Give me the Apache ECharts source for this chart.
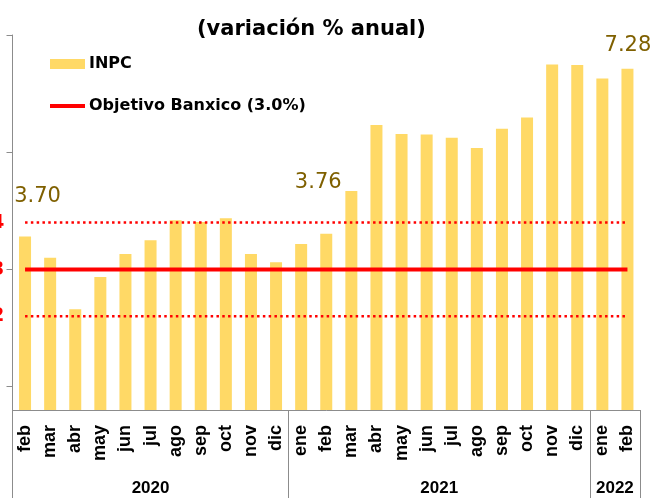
<!DOCTYPE html>
<html>
<head>
<meta charset="utf-8">
<script src="https://cdn.jsdelivr.net/npm/echarts@6/dist/echarts.min.js"></script>
<style>
html,body{margin:0;padding:0;background:#fff;}
#chart{width:655px;height:498px;}
</style>
</head>
<body>
<div id="chart"></div>
<script>
// ---- data ----
var months = ['feb','mar','abr','may','jun','jul','ago','sep','oct','nov','dic',
              'ene','feb','mar','abr','may','jun','jul','ago','sep','oct','nov','dic',
              'ene','feb'];
var inpc = [3.70, 3.25, 2.15, 2.84, 3.33, 3.62, 4.05, 4.01, 4.09, 3.33, 3.15,
            3.54, 3.76, 4.67, 6.08, 5.89, 5.88, 5.81, 5.59, 6.00, 6.24, 7.37, 7.36,
            7.07, 7.28];
var years = ['2020', '2021', '2022'];
var yearCounts = [11, 12, 2];
var target = 3.0;
var upperBand = 4.0;
var lowerBand = 2.0;
var bandLabels = [2, 3, 4];
var yTicks = [0.5, 3, 5.5, 8];
var labeledIdx = [0, 12, 24];
var title = '(variación % anual)';
var seriesNames = ['INPC', 'Objetivo Banxico (3.0%)'];

// ---- derived ----
var bounds = [0];
yearCounts.forEach(function (c, i) { bounds.push(bounds[i] + c); });
var mids = years.map(function (y, i) { return (bounds[i] + bounds[i + 1]) / 2; });
var labelOffsets = { 0: [12.5, -25], 12: [-8, -36], 24: [0.5, -8] };

var barData = inpc.map(function (v, i) {
  if (labeledIdx.indexOf(i) >= 0) {
    return { value: v, label: { show: true, position: 'top', offset: labelOffsets[i],
      formatter: function (p) { return p.value.toFixed(2); } } };
  }
  return v;
});
function constant(v) { return months.map(function () { return v; }); }

var chart = echarts.init(document.getElementById('chart'), null, { renderer: 'canvas' });
chart.setOption({
  animation: false,
  backgroundColor: '#ffffff',
  title: {
    text: title,
    left: 192, top: 14,
    textStyle: { fontFamily: 'DejaVu Sans', fontWeight: 'bold', fontSize: 21, color: '#000' }
  },
  legend: {
    orient: 'vertical',
    left: 43, top: 49,
    itemWidth: 35, itemHeight: 10, itemGap: 22,
    data: [
      { name: seriesNames[0], icon: 'rect' },
      { name: seriesNames[1], itemStyle: { opacity: 0 }, lineStyle: { width: 4, color: '#ff0000' } }
    ],
    textStyle: { fontFamily: 'DejaVu Sans', fontWeight: 'bold', fontSize: 16, color: '#000', lineHeight: 20, padding: [0, 0, 0, -1] }
  },
  grid: { left: 12.5, right: 15, top: 35, bottom: 88, containLabel: false, outerBoundsMode: 'none' },
  xAxis: [
    {
      type: 'category',
      data: months,
      position: 'bottom',
      axisLine: { show: true, lineStyle: { color: '#8c8c8c', width: 1 } },
      axisTick: { show: false },
      axisLabel: { interval: 0, rotate: 90, margin: 15, fontFamily: 'Liberation Sans', fontWeight: 'bold', fontSize: 18, color: '#000' }
    },
    {
      type: 'value',
      min: 0, max: bounds[bounds.length - 1],
      position: 'bottom',
      axisLine: { show: false },
      splitLine: { show: false },
      axisTick: { show: true, customValues: bounds, length: 90, lineStyle: { color: '#8c8c8c', width: 1 } },
      axisLabel: {
        customValues: mids, margin: 70, fontFamily: 'Liberation Sans', fontWeight: 'bold', fontSize: 17, color: '#000',
        formatter: function (v) { var i = mids.indexOf(v); return i >= 0 ? years[i] : ''; }
      }
    }
  ],
  yAxis: {
    type: 'value',
    min: 0, max: 8,
    axisLine: { show: true, lineStyle: { color: '#8c8c8c', width: 1 } },
    axisTick: { show: true, customValues: yTicks, length: 6, lineStyle: { color: '#8c8c8c' } },
    splitLine: { show: false },
    axisLabel: { customValues: bandLabels, margin: 8, color: '#ff0000', fontFamily: 'DejaVu Sans', fontWeight: 'bold', fontSize: 20 }
  },
  series: [
    {
      name: seriesNames[0],
      type: 'bar',
      data: barData,
      barWidth: 12,
      itemStyle: { color: '#FFD966' },
      label: { show: false, color: '#7F6000', fontFamily: 'DejaVu Sans', fontSize: 21 },
      z: 2
    },
    {
      name: seriesNames[1],
      type: 'line',
      data: constant(target),
      symbol: 'none',
      lineStyle: { color: '#ff0000', width: 4 },
      itemStyle: { color: '#ff0000' },
      z: 3
    },
    {
      name: 'upper',
      type: 'line',
      data: constant(upperBand),
      symbol: 'none',
      lineStyle: { color: '#ff0000', width: 2.5, type: [2.5, 3.3] },
      z: 3
    },
    {
      name: 'lower',
      type: 'line',
      data: constant(lowerBand),
      symbol: 'none',
      lineStyle: { color: '#ff0000', width: 2.5, type: [2.5, 3.3] },
      z: 3
    }
  ]
});
</script>
</body>
</html>
